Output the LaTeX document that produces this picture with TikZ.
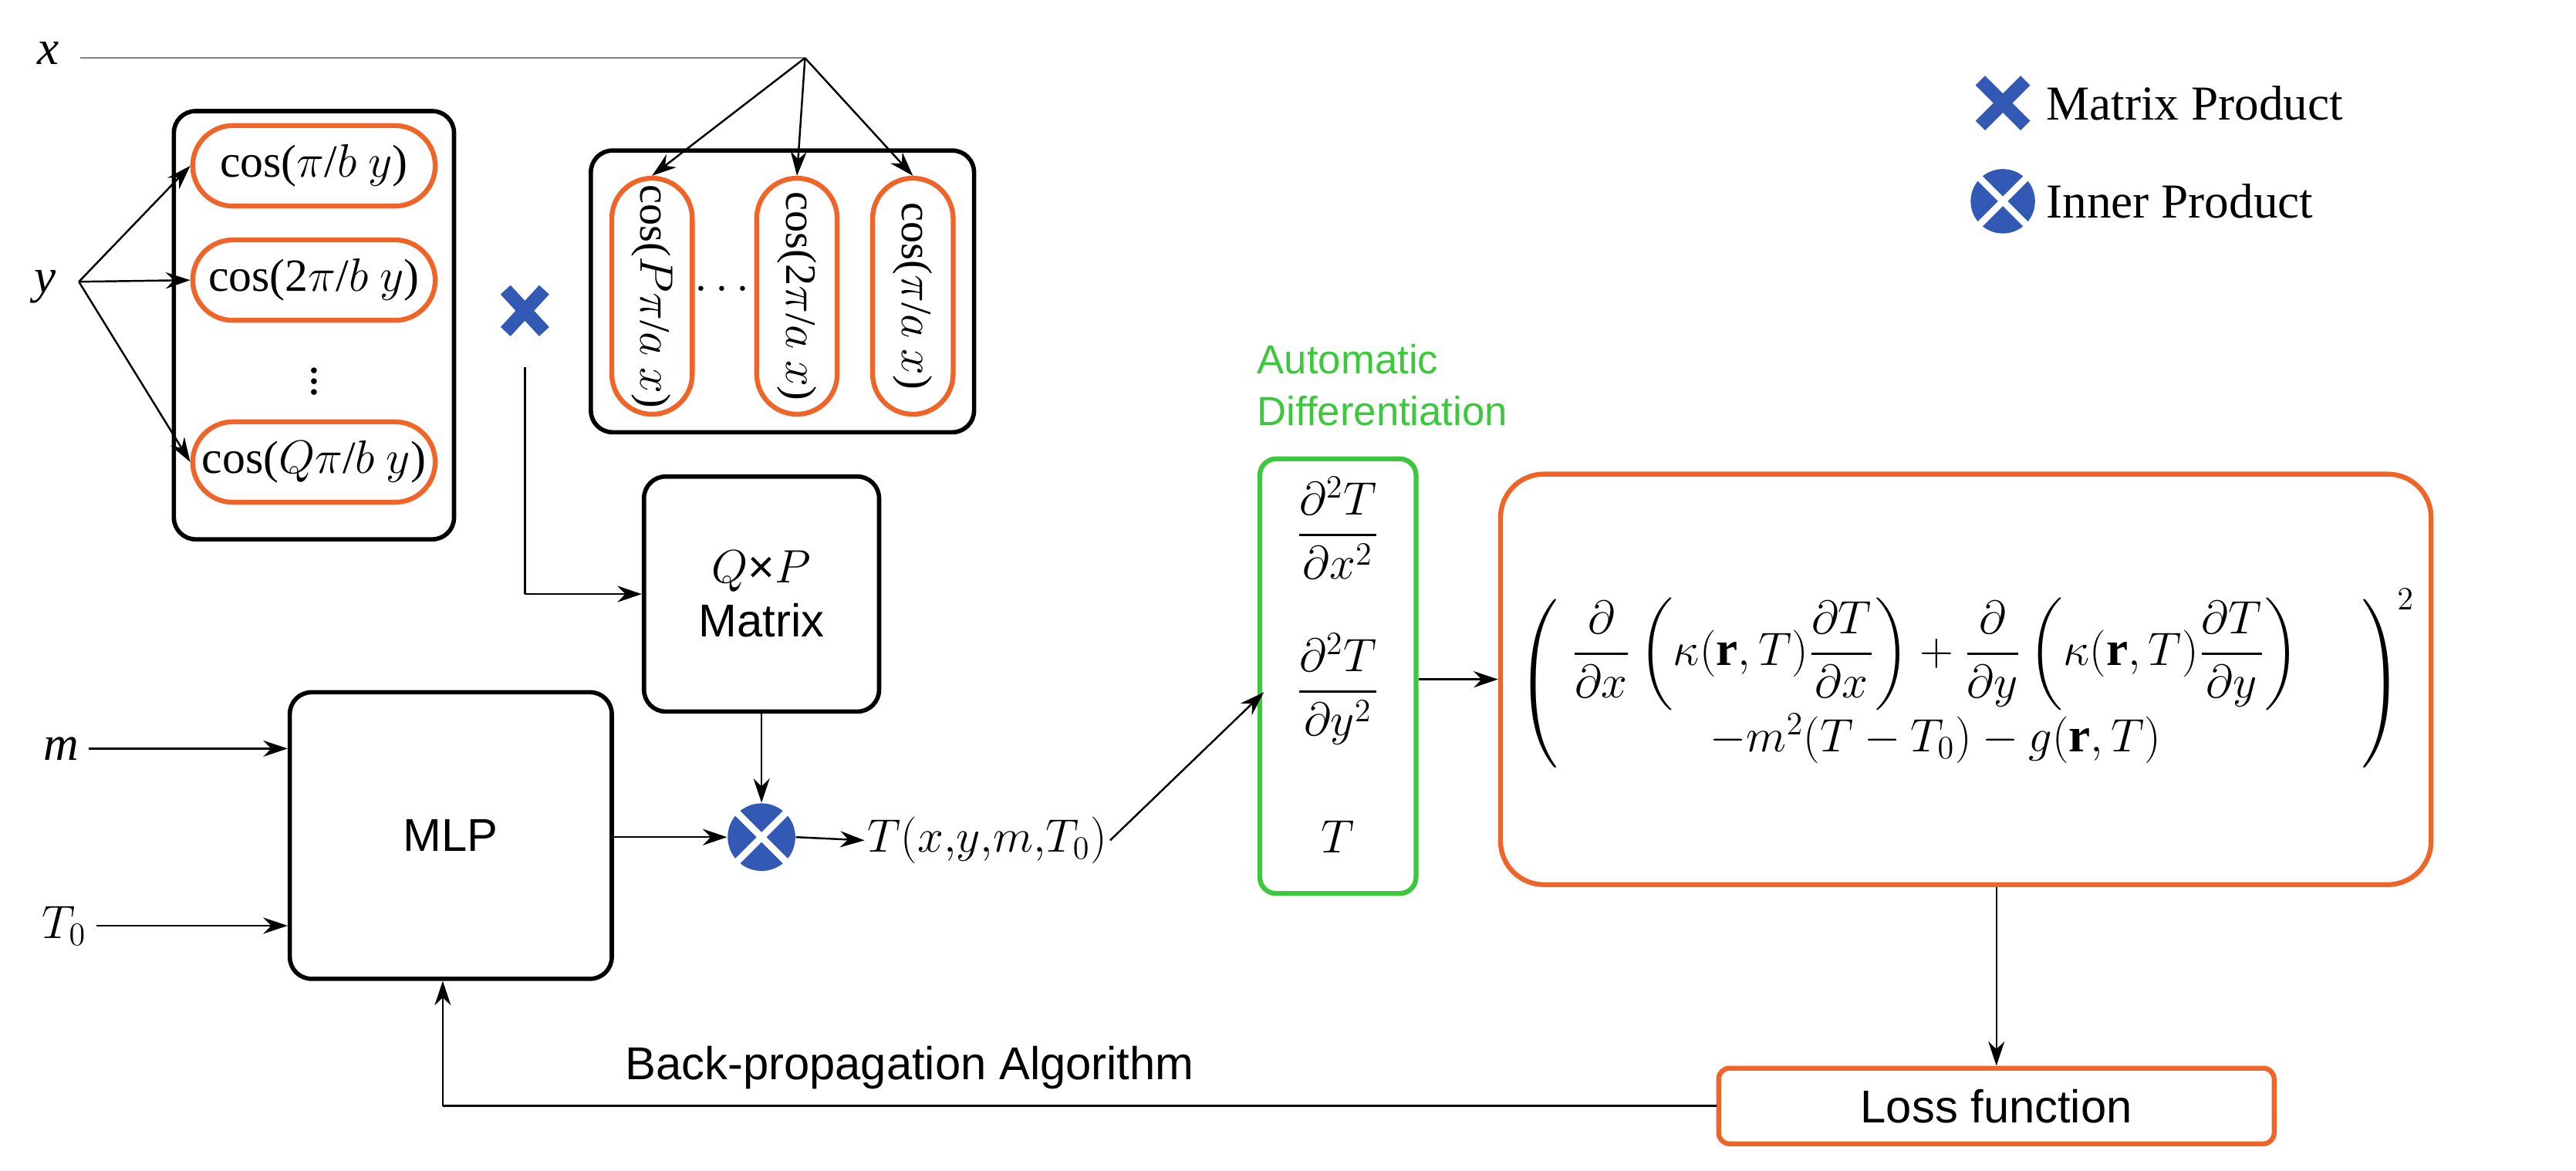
\documentclass[tikz,border=0pt]{standalone}
\usepackage{fontspec}
\usepackage{amsmath}
\setmainfont{Liberation Serif}
\newfontfamily\arialf{Liberation Sans}
\usetikzlibrary{shapes.misc,arrows.meta}
\newlength\uu \setlength\uu{0.02087cm}
\definecolor{org}{RGB}{240,100,40}
\definecolor{grn}{RGB}{60,200,60}
\definecolor{blu}{RGB}{50,90,180}
\begin{document}
\begin{tikzpicture}[x=0.02087cm,y=-0.02087cm,
 arr/.style={-{Stealth[length=9pt,width=6pt]},line width=0.7pt},
 blk/.style={draw,line width=1.6pt,rounded corners=8pt},
 ov/.style={draw=org,line width=1.8pt,rounded rectangle,inner sep=1pt,font=\fontsize{17}{19}\selectfont},
 sl/.style={font=\arialf\fontsize{17}{20}\selectfont},
 rl/.style={font=\fontsize{18}{20}\selectfont\itshape}]
\useasboundingbox (0,0) rectangle (1600,727);
% inputs
\node[rl] (x) at (30,33) {x};
\node[rl] (y) at (28,178) {y};
\node[rl] (m) at (38,465) {m};
\node[rl] (t0) at (40,575) {$T_0$};
\coordinate (xs) at (50,36); \coordinate (xj) at (500,36);
\draw[line width=0.7pt,gray] (xs)--(xj);
% y box
\node[blk,minimum width=174\uu,minimum height=266\uu] (ybox) at (195,202) {};
\node[ov,minimum width=154\uu,minimum height=50\uu] (y1) at (195,103) {cos($\pi$/$b$ $y$)};
\node[ov,minimum width=154\uu,minimum height=50\uu] (y2) at (195,174) {cos(2$\pi$/$b$ $y$)};
\node[ov,minimum width=154\uu,minimum height=50\uu] (y3) at (195,287) {cos($Q\pi$/$b$ $y$)};
\node[font=\fontsize{18}{20}\selectfont] (yd) at (195,232) {$\vdots$};
\coordinate (ys) at (49,175);
\foreach \t in {y1,y2,y3} \draw[arr] (ys)--(\t.west);
% x box
\node[blk,minimum width=238\uu,minimum height=175\uu] (xbox) at (486,181) {};
\node[ov,rotate=-90,minimum width=150\uu,minimum height=50\uu,font=\fontsize{16}{18}\selectfont] (x1) at (405,184) {cos($P\pi$/$a$ $x$)};
\node[ov,rotate=-90,minimum width=150\uu,minimum height=50\uu,font=\fontsize{16}{18}\selectfont] (x2) at (495,184) {cos(2$\pi$/$a$ $x$)};
\node[ov,rotate=-90,minimum width=150\uu,minimum height=50\uu,font=\fontsize{16}{18}\selectfont] (x3) at (567,184) {cos($\pi$/$a$ $x$)};
\node[font=\fontsize{18}{20}\selectfont] (xd) at (451,180) {$\cdots$};
\foreach \t in {x1,x2,x3} \draw[arr] (xj)--(\t.west);
% matrix product symbol
\draw[blu,line width=5pt] (314,180)--(338,206) (314,206)--(338,180);
% QxP matrix
\node[blk,sl,minimum width=146\uu,minimum height=146\uu,align=center] (mat) at (473,369) {$Q$×$P$\\Matrix};
\coordinate (mt) at (326,228);
\coordinate (mc) at (326,369);
\draw[line width=0.7pt] (mt)--(mc);
\draw[arr] (mc)--(mat.west|-mc);
% MLP
\node[blk,sl,minimum width=200\uu,minimum height=178\uu] (mlp) at (280,519) {MLP};
\draw[arr] (m.east)--(mlp.west|-m);
\draw[arr] (t0.east)--(mlp.west|-t0);
% inner product
\node[circle,fill=blu,minimum size=42\uu,inner sep=0] (ip) at (473,520) {};
\draw[white,line width=2.5pt] (ip.45)--(ip.225) (ip.135)--(ip.315);
\draw[arr] (mlp.east|-ip)--(ip.west);
\draw[arr] (mat.south)--(ip.north);
\node[font=\fontsize{18}{20}\selectfont,anchor=west,inner sep=1pt] (T) at (537,522) {$T(x{,}y{,}m{,}T_0)$};
\draw[arr] (ip.east)--(T.west);
% green
\node[text=grn,font=\arialf\fontsize{15}{19}\selectfont,align=left,anchor=west] (ad) at (775,239) {Automatic\\Differentiation};
\node[draw=grn,line width=1.8pt,rounded corners=6pt,minimum width=97\uu,minimum height=270\uu] (gb) at (831,420) {};
\node[font=\fontsize{18}{20}\selectfont] (d1) at (831,328) {$\dfrac{\partial^2T}{\partial x^2}$};
\node[font=\fontsize{18}{20}\selectfont] (d2) at (831,428) {$\dfrac{\partial^2T}{\partial y^2}$};
\node[font=\fontsize{18}{20}\selectfont] (d3) at (831,520) {$T$};
\coordinate (gin) at (785,430);
\draw[arr] (T.east)--(gin);
% formula
\node[draw=org,line width=1.8pt,rounded corners=16pt,minimum width=578\uu,minimum height=255\uu,font=\fontsize{18}{22}\selectfont] (eq) at (1221,422) {$\left(\begin{array}{c}\dfrac{\partial}{\partial x}\left(\kappa(\mathbf r,T)\dfrac{\partial T}{\partial x}\right)+\dfrac{\partial}{\partial y}\left(\kappa(\mathbf r,T)\dfrac{\partial T}{\partial y}\right)\\[2pt] -m^2(T-T_0)-g(\mathbf r,T)\end{array}\quad\right)^{\!2}$};
\draw[arr] (gb.east|-eq)--(eq.west);
% loss
\node[draw=org,line width=1.8pt,rounded corners=4pt,sl,minimum width=345\uu,minimum height=47\uu] (loss) at (1240,687) {Loss function};
\draw[arr] (eq.south-|loss)--(loss.north);
\coordinate (bc) at (275,687);
\draw[line width=0.7pt] (loss.west)--(bc);
\draw[arr] (bc)--(mlp.south-|bc);
\node[sl] (bp) at (565,663) {Back-propagation Algorithm};
% legend
\draw[blu,line width=5pt] (1230,50)--(1258,78) (1230,78)--(1258,50);
\node[anchor=west,font=\fontsize{18}{20}\selectfont] (l1) at (1265,64) {Matrix Product};
\node[circle,fill=blu,minimum size=40\uu,inner sep=0] (lc) at (1244,125) {};
\draw[white,line width=2.5pt] (lc.45)--(lc.225) (lc.135)--(lc.315);
\node[anchor=west,font=\fontsize{18}{20}\selectfont] (l2) at (1265,125) {Inner Product};
\end{tikzpicture}
\end{document}
